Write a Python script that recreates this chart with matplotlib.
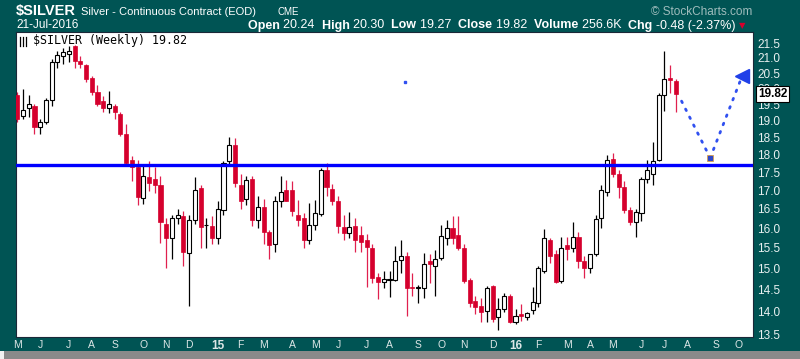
import numpy as np
import pandas as pd
import matplotlib
matplotlib.use("Agg")
import matplotlib.pyplot as plt
from matplotlib.patches import Rectangle
import matplotlib.dates as mdates
from matplotlib.ticker import NullLocator, NullFormatter, FixedLocator

# weekly candles, first bar is the week of 5 May 2014
start_date = "2014-05-05"
opens = [19.80, 19.15, 19.40, 19.45, 18.80, 18.95, 19.65, 20.85, 21.05, 21.15,
         21.42, 20.90, 20.75, 20.35, 19.90, 19.60, 19.40, 19.45, 19.20, 18.60,
         17.85, 17.65, 16.80, 17.35, 17.32, 17.15, 16.10, 15.75, 16.25, 16.30,
         15.38, 16.20, 17.05, 16.07, 16.05, 15.75, 16.47, 17.82, 18.27, 17.15,
         16.75, 17.32, 16.22, 16.55, 15.90, 15.60, 16.72, 17.00, 17.00, 16.35,
         16.25, 15.70, 16.08, 16.37, 17.55, 17.03, 16.70, 16.03, 15.87, 16.05,
         15.83, 15.70, 15.50, 14.80, 14.67, 14.73, 14.73, 15.20, 15.30, 14.57,
         14.55, 14.55, 15.18, 15.07, 15.25, 15.75, 16.00, 15.83, 15.50, 14.72,
         14.25, 14.13, 14.02, 14.58, 13.88, 14.07, 14.35, 13.78, 13.95, 13.88,
         14.03, 14.20, 14.95, 15.70, 15.35, 14.70, 15.57, 15.50, 15.78, 15.17,
         15.00, 15.35, 16.25, 16.95, 17.88, 17.45, 17.10, 16.47, 16.15, 16.38,
         17.30, 17.45, 17.85, 19.80, 20.35, 20.24]
highs = [19.90, 20.00, 19.80, 19.50, 19.05, 19.70, 20.95, 21.25, 21.35, 21.40,
         21.45, 21.05, 20.80, 20.40, 20.10, 19.75, 19.92, 19.50, 19.25, 18.90,
         17.95, 17.85, 17.72, 17.82, 17.65, 17.38, 16.25, 16.35, 16.50, 16.45,
         16.35, 17.35, 17.15, 16.25, 16.30, 16.70, 17.80, 18.50, 18.47, 17.45,
         17.40, 17.40, 16.85, 16.75, 15.95, 16.85, 17.38, 17.28, 17.25, 16.74,
         16.40, 16.65, 16.74, 17.62, 17.75, 17.18, 16.85, 16.35, 16.43, 16.25,
         16.05, 15.85, 15.60, 14.90, 14.93, 14.93, 15.55, 15.70, 15.40, 14.90,
         14.62, 15.38, 15.35, 15.45, 16.08, 16.20, 16.30, 16.30, 15.60, 14.78,
         14.35, 14.30, 14.58, 14.60, 14.30, 14.42, 14.40, 14.05, 14.17, 14.00,
         14.57, 15.05, 15.98, 15.75, 15.45, 15.78, 15.78, 16.15, 15.90, 15.30,
         15.35, 16.33, 17.15, 17.98, 18.03, 17.55, 17.25, 16.55, 16.50, 17.35,
         17.85, 18.37, 19.85, 21.25, 20.78, 20.30]
lows = [18.95, 19.05, 19.10, 18.60, 18.60, 18.90, 19.45, 20.68, 20.80, 20.85,
        20.65, 20.65, 20.22, 19.80, 19.45, 19.25, 19.23, 19.05, 18.53, 17.72,
        17.25, 16.60, 16.62, 16.98, 16.93, 15.62, 15.00, 15.23, 16.10, 15.05,
        14.13, 16.10, 15.50, 15.50, 15.60, 15.60, 16.35, 17.67, 17.10, 16.50,
        16.60, 16.05, 16.00, 15.60, 15.23, 15.40, 16.55, 16.70, 16.30, 16.05,
        15.50, 15.60, 15.95, 16.30, 16.83, 16.60, 15.87, 15.70, 15.75, 15.40,
        15.40, 14.57, 14.65, 14.28, 14.55, 14.32, 14.70, 14.90, 13.90, 14.35,
        14.20, 14.30, 14.65, 14.35, 15.20, 15.57, 15.60, 15.45, 14.65, 14.10,
        13.95, 13.78, 13.78, 13.78, 13.60, 14.00, 13.75, 13.72, 13.80, 13.82,
        13.95, 14.10, 14.90, 15.13, 14.65, 14.65, 15.20, 15.40, 15.00, 14.77,
        14.90, 15.30, 16.00, 16.85, 17.35, 16.78, 16.40, 16.08, 15.78, 16.18,
        17.20, 17.15, 17.80, 19.30, 19.85, 19.27]
closes = [19.05, 19.33, 19.50, 18.80, 18.97, 19.65, 20.85, 21.10, 21.20, 21.25,
          20.90, 20.80, 20.30, 19.90, 19.50, 19.40, 19.50, 19.27, 18.60, 17.75,
          17.65, 16.82, 17.38, 17.20, 17.15, 16.15, 15.75, 16.25, 16.35, 15.40,
          16.20, 17.00, 16.03, 16.08, 15.75, 16.50, 17.75, 18.27, 17.20, 16.70,
          17.28, 16.20, 16.55, 15.90, 15.57, 16.70, 16.95, 16.72, 16.45, 16.20,
          15.70, 16.08, 16.38, 17.55, 17.10, 16.70, 16.05, 15.88, 16.02, 15.70,
          15.65, 15.53, 14.77, 14.67, 14.75, 14.74, 15.17, 15.30, 14.55, 14.53,
          14.56, 15.10, 15.10, 15.22, 15.80, 16.00, 15.75, 15.50, 14.70, 14.20,
          14.10, 14.00, 14.53, 13.83, 14.05, 14.35, 13.78, 13.90, 13.90, 13.98,
          14.22, 15.00, 15.75, 15.30, 14.67, 15.50, 15.47, 15.78, 15.17, 15.00,
          15.35, 16.23, 17.00, 17.85, 17.45, 17.10, 16.47, 16.15, 16.42, 17.30,
          17.55, 17.80, 19.80, 20.30, 20.28, 19.82]

support_level = 17.7
proj_dates = ["2016-07-25", "2016-08-29", "2016-10-07"]
proj_prices = [19.6, 17.9, 20.4]
stray_date, stray_price = "2015-08-22", 20.2
y_ticks = [13.5, 14.0, 14.5, 15.0, 15.5, 16.0, 16.5, 17.0, 17.5,
           18.0, 18.5, 19.0, 19.5, 20.0, 20.5, 21.0, 21.5]

teal = "#005454"
red = "#d5002d"
W, H = 800, 359

dates = pd.date_range(start_date, periods=len(opens), freq="7D")
x = mdates.date2num(dates)
o, h, l, c = map(np.array, (opens, highs, lows, closes))
up = c >= o

fig = plt.figure(figsize=(8, 3.59), dpi=100)
fig.patch.set_facecolor("#f2f2f2")
# drop shadow + teal frame
fig.add_artist(Rectangle((4 / W, 0), 796 / W, 1 - 8 / H, transform=fig.transFigure,
                         facecolor="#8a8a8a", edgecolor="none", zorder=-3))
fig.add_artist(Rectangle((0, 8 / H), 1, 1 - 8 / H, transform=fig.transFigure,
                         facecolor=teal, edgecolor="none", zorder=-2))

ax = fig.add_axes([16 / W, 1 - 336.7 / H, 736.5 / W, 304.4 / H])
ax.set_facecolor("white")

# wicks
ax.vlines(x[up], l[up], h[up], color="black", lw=0.9, zorder=2)
ax.vlines(x[~up], l[~up], h[~up], color="#e0204f", lw=0.9, zorder=2)
# bodies
bw = 5.0
ax.bar(x[up], c[up] - o[up], bottom=o[up], width=bw, facecolor="white",
       edgecolor="black", lw=0.8, zorder=3)
ax.bar(x[~up], o[~up] - c[~up], bottom=c[~up], width=bw, facecolor=red,
       edgecolor=red, lw=0.5, zorder=3)

ax.axhline(support_level, color="#0000ff", lw=2.4, zorder=4)

px = mdates.date2num(pd.to_datetime(proj_dates))
ax.plot(px[:2], proj_prices[:2], color="#3050f0", lw=2, ls=(0, (0.6, 2.6)),
        dash_capstyle="round", zorder=5)
ax.plot(px[1:], proj_prices[1:], color="#3050f0", lw=2, ls=(0, (0.6, 2.6)),
        dash_capstyle="round", zorder=5)
ax.plot(px[1], proj_prices[1], marker="s", ms=5, mfc="#2f48c8", mec="#d9a050",
        mew=0.6, zorder=6)
ax.plot(px[2], proj_prices[2], marker="<", ms=10, color="#2040e8", zorder=6,
        clip_on=False)
ax.plot(mdates.date2num(pd.Timestamp(stray_date)), stray_price, marker="s",
        ms=1.5, color="#3050f0", zorder=5)

# axes
ax.set_yscale("log")
ax.set_ylim(13.45, 21.88)
ax.set_xlim(x[0] - 1.6, x[-1] + 93.7)
ax.yaxis.tick_right()
ax.yaxis.set_major_locator(FixedLocator(y_ticks))
ax.yaxis.set_minor_locator(NullLocator())
ax.yaxis.set_minor_formatter(NullFormatter())
ax.set_yticklabels([f"{v:.1f}" for v in y_ticks])
ax.tick_params(axis="y", length=0, pad=3.5, labelsize=8.5, labelcolor="#e8f0f0")

all_weeks = pd.date_range(start_date, "2016-10-31", freq="7D")
firsts = all_weeks.to_series().groupby(all_weeks.to_period("M")).first()
month_labels = [str(d.year)[2:] if d.month == 1 else d.strftime("%b")[0] for d in firsts]
ax.set_xticks(mdates.date2num(firsts.values))
ax.set_xticklabels(month_labels)
ax.tick_params(axis="x", length=0, pad=2.5, labelsize=7.5, labelcolor="#dce6e6")
for t in ax.get_xticklabels() + ax.get_yticklabels():
    t.set_family("Liberation Sans")
for t, d in zip(ax.get_xticklabels(), firsts):
    if d.month == 1:
        t.set_fontweight("bold")
        t.set_fontsize(8.5)
for s in ax.spines.values():
    s.set_color("#1b2838")
    s.set_linewidth(0.8)

# chart label inside the plot
ax.text(0.023, 0.963, r"\$SILVER (Weekly) 19.82", transform=ax.transAxes,
        family="DejaVu Sans Mono", fontsize=8.4, va="baseline", color="black")
for dx in (0.005, 0.009, 0.013):
    ax.plot([dx, dx], [0.955, 0.985], transform=ax.transAxes, color="black", lw=0.9)

# last price tag
ax.annotate("19.82", xy=(1.0, 19.82), xycoords=("axes fraction", "data"),
            xytext=(4, 0), textcoords="offset points", fontsize=8.5,
            fontweight="bold", family="Liberation Sans", va="center", ha="left",
            bbox=dict(boxstyle="square,pad=0.15", fc="white", ec="black", lw=0.8),
            zorder=10, annotation_clip=False)

# header
fs = 9.0
fig.text(16 / W, 1 - 15 / H, "$SILVER", fontsize=10.5, fontweight="bold",
         family="Liberation Sans", color="white", va="baseline")
fig.text(81 / W, 1 - 15 / H, "Silver - Continuous Contract (EOD)", fontsize=8,
         family="Liberation Sans", color="white", va="baseline")
fig.text(278 / W, 1 - 15 / H, "CME", fontsize=7, family="Liberation Sans",
         color="white", va="baseline")
fig.text(752 / W, 1 - 15 / H, "\u00a9 StockCharts.com", fontsize=8.5,
         family="Liberation Sans", color="#9fbcbc", va="baseline", ha="right")
fig.text(16 / W, 1 - 28.5 / H, "21-Jul-2016", fontsize=8.5, family="Liberation Sans",
         color="white", va="baseline")

pieces = [("Open ", "bold"), ("20.24  ", "normal"), ("High ", "bold"),
          ("20.30  ", "normal"), ("Low ", "bold"), ("19.27  ", "normal"),
          ("Close ", "bold"), ("19.82  ", "normal"), ("Volume ", "bold"),
          ("256.6K  ", "normal"), ("Chg ", "bold"), ("-0.48 (-2.37%) ", "normal")]
renderer = fig.canvas.get_renderer()
xpos = 248 / W
for txt, wt in pieces:
    t = fig.text(xpos, 1 - 28.5 / H, txt, fontsize=fs, fontweight=wt,
                 family="Liberation Sans", color="white", va="baseline")
    xpos += t.get_window_extent(renderer).width / fig.bbox.width
fig.text(xpos, 1 - 28.5 / H, "\u25bc", fontsize=6, color=red, va="baseline",
         family="DejaVu Sans")

fig.savefig("out.png", dpi=100, facecolor=fig.get_facecolor())
